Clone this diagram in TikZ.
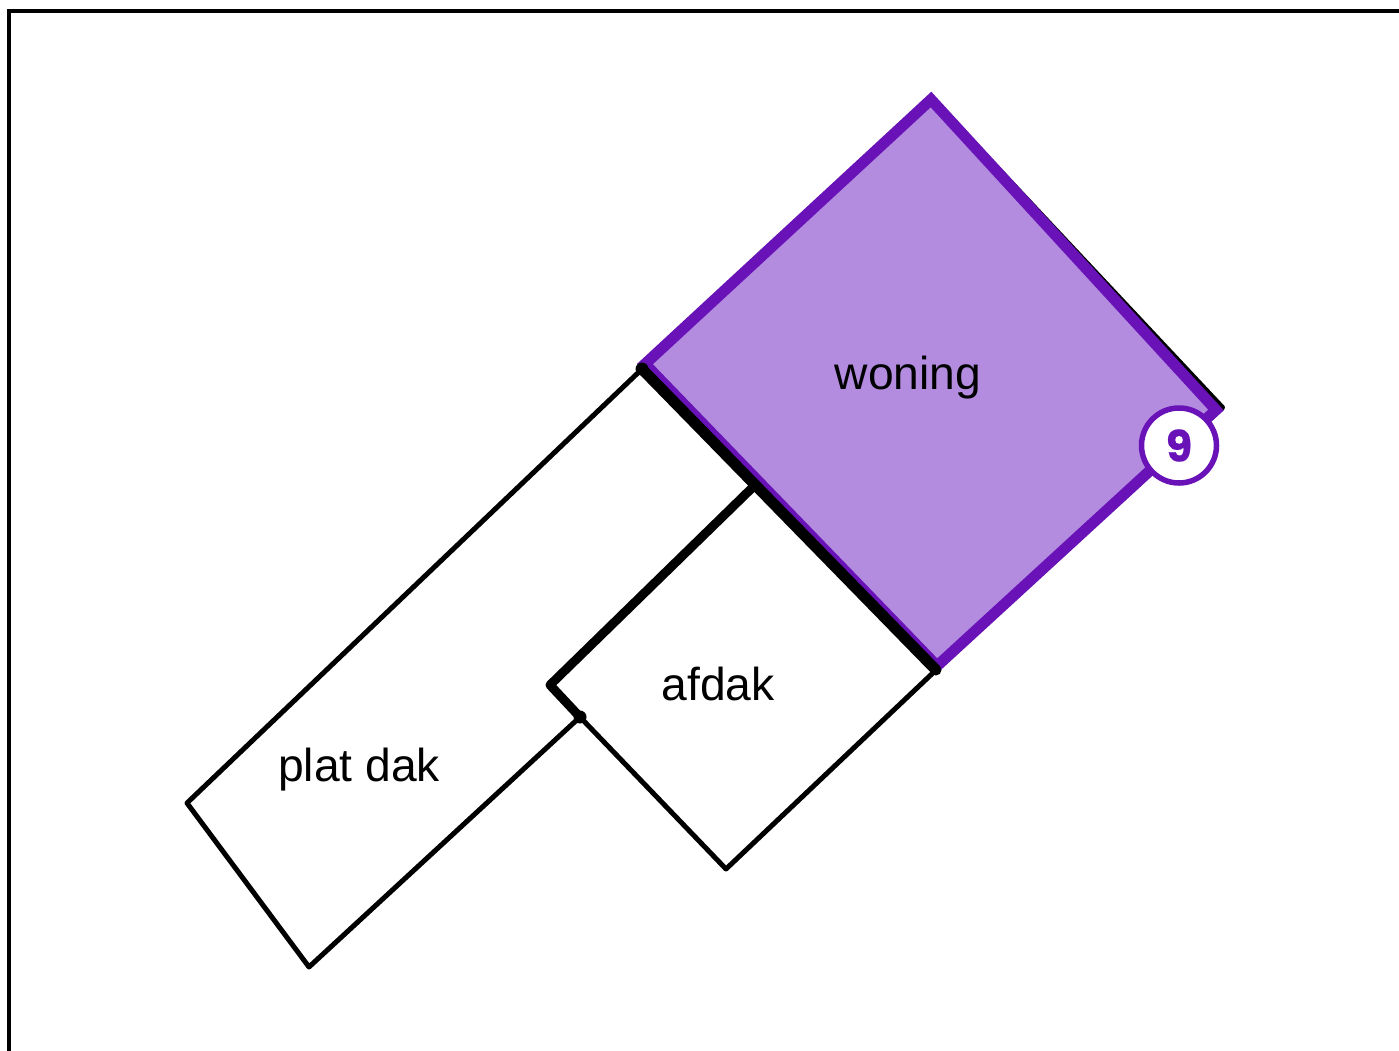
\documentclass[tikz,border=0pt]{standalone}
\usepackage{fontspec}
\setmainfont{Liberation Sans}
\newfontfamily\badgefont[BoldFeatures={FakeBold=0.5}]{Poppins}
\definecolor{purpleline}{RGB}{104,18,184}
\definecolor{purplefill}{RGB}{179,140,224}
\tikzset{
  thinline/.style={draw=black,line width=5pt,line join=round,line cap=round},
  thickline/.style={draw=black,line width=9pt,line join=round,line cap=round},
  heavyline/.style={draw=black,line width=11pt,line cap=round},
  zone/.style={draw=purpleline,fill=purplefill,line width=11pt,line join=miter},
  roomlabel/.style={font=\fontsize{46.2}{50}\selectfont,text=black,inner sep=0pt,anchor=base},
  badge/.style={circle,draw=purpleline,fill=white,line width=5.5pt,minimum size=75pt,inner sep=0pt,text=purpleline,font=\badgefont\bfseries\fontsize{43}{46}\selectfont},
  dot/.style={circle,fill=black,inner sep=0pt,minimum size=13pt}
}
\begin{document}
\begin{tikzpicture}[x=1pt,y=-1pt]
\useasboundingbox (0,0) rectangle (1399,1050);
\fill[white] (0,0) rectangle (1399,1050);
\draw[black,line width=3.6pt] (9,1060) -- (9,11) -- (1410,11);
\coordinate (top) at (931,97);
\coordinate (right) at (1222.5,407.5);
\coordinate (jl) at (642,369);
\coordinate (jb) at (936,670);
\coordinate (pl) at (187,803);
\coordinate (pb) at (309,967);
\coordinate (kink) at (580,717);
\coordinate (ab) at (726,869);
\coordinate (ac) at (550,685);
\coordinate (at) at (753,487);
% outer contour
\draw[thinline] (jl) -- (pl) -- (pb) -- (kink) -- (ab) -- (jb) -- (right) -- (top) -- cycle;
% purple zone
\coordinate (zt) at (931,99.5);
\coordinate (zr) at (1216,410);
\coordinate (zb) at (937,666);
\coordinate (zl) at (645,364);
\draw[zone] (zt) -- (zr) -- (zb) -- (zl) -- cycle;
% heavy walls
\draw[heavyline] (jl) -- (jb);
\draw[thickline] (at) -- (ac) -- (kink);
\node[dot] (d1) at (jl) {};
\node[dot] (d2) at (kink) {};
% labels
\node[roomlabel] (woning) at (908,389) {woning};
\node[roomlabel] (afdak) at (718,700) {afdak};
\node[roomlabel] (platdak) at (359,781) {plat dak};
\node[badge] (nine) at (1179,445.5) {9};
\end{tikzpicture}
\end{document}
